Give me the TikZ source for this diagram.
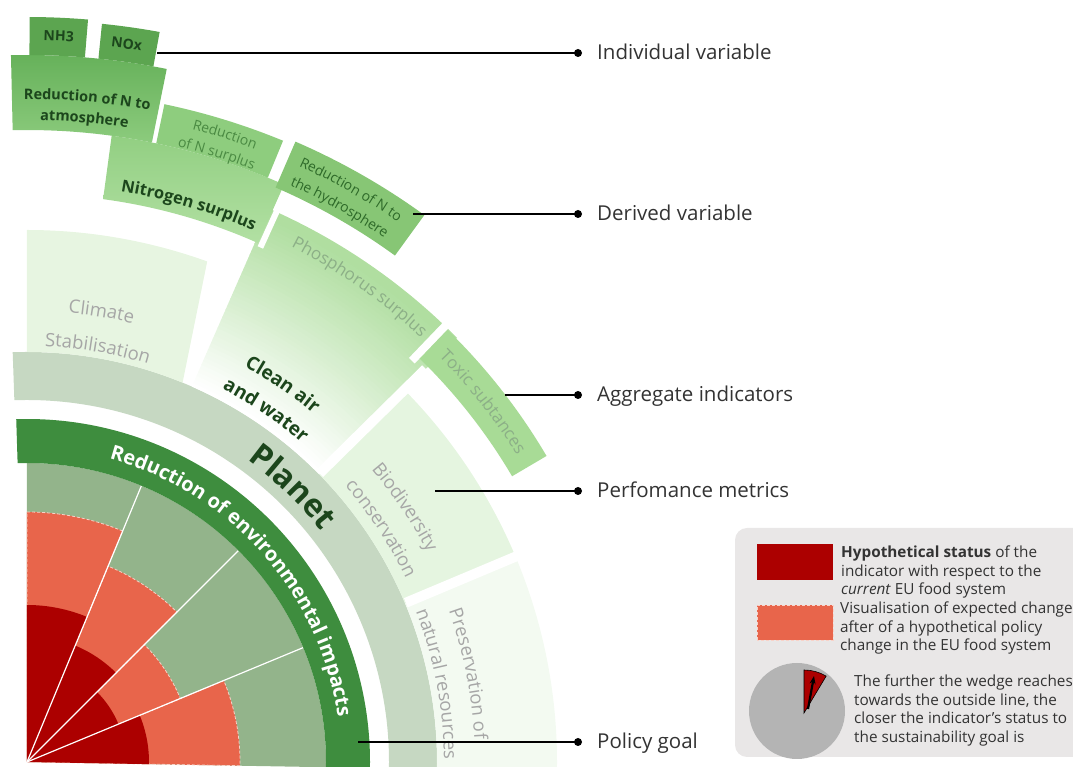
\documentclass[tikz,border=0pt]{standalone}
\usepackage{fontspec}
\setmainfont{Open Sans}
\usetikzlibrary{decorations.text,arrows.meta}

\definecolor{fanGreen}{HTML}{93B48B}
\definecolor{redDark}{HTML}{AC0000}
\definecolor{redSoft}{HTML}{E8654B}
\definecolor{dashPink}{HTML}{F8D2C8}
\definecolor{bandGreen}{HTML}{3E8D3E}
\definecolor{planetGrey}{HTML}{C6D8C2}
\definecolor{presGreen}{HTML}{F3FAF1}
\definecolor{bioGreen}{HTML}{E5F5E0}
\definecolor{climGreen}{HTML}{E7F5E1}
\definecolor{cleanTop}{HTML}{B0DEA0}
\definecolor{toxicGreen}{HTML}{A8DB96}
\definecolor{nitroLow}{HTML}{B2E0A3}
\definecolor{nitroHigh}{HTML}{92CF82}
\definecolor{nsurGreen}{HTML}{8ECD7E}
\definecolor{hydroGreen}{HTML}{87C675}
\definecolor{atmoLow}{HTML}{8CCB7D}
\definecolor{atmoHigh}{HTML}{66B15A}
\definecolor{nhGreen}{HTML}{5CA550}
\definecolor{darkText}{HTML}{1C461C}
\definecolor{greyText}{HTML}{A6A6A6}
\definecolor{softText}{HTML}{8CAF87}
\definecolor{midText}{HTML}{4A8A42}
\definecolor{hydroText}{HTML}{2E6A29}
\definecolor{labelText}{HTML}{333333}
\definecolor{legendGrey}{HTML}{E9E7E7}
\definecolor{pieGrey}{HTML}{B4B4B4}

\newcommand{\wedgepath}[3]{(0,0) -- ({#2}:#1) arc[start angle=#2,end angle=#3,radius=#1] -- cycle}
\newcommand{\ringpath}[4]{({#3}:#1) arc[start angle=#3,end angle=#4,radius=#1] -- ({#4}:#2) arc[start angle=#4,end angle=#3,radius=#2] -- cycle}
\newcommand{\arclabel}[5]{\path[decorate,decoration={text along path,text align=center,text={|#4|#5}}] ({#2+#3}:#1) arc[start angle={#2+#3},end angle={#2-#3},radius=#1];}

\newcommand{\fmtImpact}{\fontsize{20}{24}\selectfont\bfseries\color{white}}
\newcommand{\fmtPlanet}{\fontsize{32}{36}\selectfont\bfseries\color{darkText}}
\newcommand{\fmtGoal}{\fontsize{19}{22}\selectfont\bfseries\color{darkText}}
\newcommand{\fmtMetric}{\fontsize{18.5}{22}\selectfont\color{greyText}}
\newcommand{\fmtAggr}{\fontsize{17}{20}\selectfont\color{softText}}
\newcommand{\fmtNitro}{\fontsize{16.5}{20}\selectfont\bfseries\color{darkText}}
\newcommand{\fmtDerived}{\fontsize{14}{17}\selectfont\color{midText}}
\newcommand{\fmtHydro}{\fontsize{14}{17}\selectfont\color{hydroText}}
\newcommand{\fmtAtmo}{\fontsize{14.5}{17}\selectfont\bfseries\color{darkText}}
\newcommand{\fmtVar}{\fontsize{14}{17}\selectfont\bfseries\color{darkText}}

\tikzset{
	redLight/.style={fill=redSoft, draw=dashPink, line width=0.8pt, dash pattern=on 3pt off 2pt},
	spoke/.style={white, line width=1.2pt},
	gapline/.style={white, line width=10pt},
	leader/.style={black, line width=1.8pt},
	lbl/.style={anchor=base west, inner sep=0pt, text=labelText, font=\fontsize{20.5}{24}\selectfont},
	legendtext/.style={anchor=north west, inner sep=0pt, align=left, text=labelText, font=\fontsize{15.3}{18.6}\selectfont}
}

\begin{document}
\begin{tikzpicture}[x=1pt,y=1pt]
	\useasboundingbox (-27,-5) rectangle (1046,762);

	\fill[fanGreen] \wedgepath{299}{-1}{90};
	\filldraw[redLight] \wedgepath{213}{-1}{22.5};
	\filldraw[redLight] \wedgepath{166}{22.5}{45};
	\filldraw[redLight] \wedgepath{212}{45}{67.5};
	\filldraw[redLight] \wedgepath{250}{67.5}{90};
	\fill[redDark] \wedgepath{122}{-1}{22.5};
	\fill[redDark] \wedgepath{99}{22.5}{45};
	\fill[redDark] \wedgepath{126}{45}{67.5};
	\fill[redDark] \wedgepath{157}{67.5}{90};
	\foreach \a in {22.5,45,67.5}
		\draw[spoke] (0,0) -- (\a:299);

	\fill[bandGreen] \ringpath{299}{343}{-1}{91.8};
	\fill[planetGrey] \ringpath{362}{410}{-1}{92};

	\fill[presGreen] \ringpath{410}{530}{-1}{22.8};
	\fill[bioGreen] \ringpath{410}{530}{22.8}{44.6};
	\foreach \i in {0,...,48}{
		\pgfmathsetmacro{\ra}{410+4*\i}
		\pgfmathsetmacro{\rb}{min(604,\ra+4.6)}
		\pgfmathtruncatemacro{\pct}{min(100,\i*2.2)}
		\fill[cleanTop!\pct!white] \ringpath{\ra}{\rb}{44.6}{66.3};
	}
	\fill[climGreen] (67.7:410) -- (70.2:532) arc[start angle=70.2,end angle=90,radius=532] -- (90:410) arc[start angle=90,end angle=67.7,radius=410] -- cycle;
	\fill[toxicGreen] \ringpath{563}{603}{30.5}{45.8};
	\draw[gapline] (22.8:411) -- (22.8:535);
	\draw[gapline] (44.6:411) -- (44.6:560);
	\draw[gapline, line width=8pt] (46.2:556) -- (46.2:608);

	\shade[top color=nitroHigh, bottom color=nitroLow] \ringpath{568}{632}{66}{82.3};
	\draw[gapline, line width=6pt] (65.6:565) -- (65.6:610);
	\fill[hydroGreen] \ringpath{626}{676}{54}{66.6};
	\fill[nsurGreen] \ringpath{632}{672}{67.6}{78.2};
	\shade[top color=atmoHigh, bottom color=atmoLow] \ringpath{632}{707}{78.6}{91.3};
	\fill[nhGreen] \ringpath{707}{745}{85.3}{89.8};
	\fill[nhGreen] \ringpath{707}{742}{79.7}{84.2};

	\arclabel{314}{41.5}{48}{\fmtImpact}{Reduction of environmental impacts}
	\arclabel{374}{46}{20}{\fmtPlanet}{Planet}
	\arclabel{451}{80.6}{12}{\fmtMetric}{Climate}
	\arclabel{416}{80.3}{12}{\fmtMetric}{Stabilisation}
	\arclabel{451}{55.9}{14}{\fmtGoal}{Clean air}
	\arclabel{421}{55.8}{14}{\fmtGoal}{and water}
	\arclabel{452}{34}{14}{\fmtMetric}{Biodiversity}
	\arclabel{421}{33.4}{14}{\fmtMetric}{conservation}
	\arclabel{448}{11.3}{14}{\fmtMetric}{Preservation of}
	\arclabel{417}{10.75}{14}{\fmtMetric}{natural resources}
	\arclabel{579}{55}{14}{\fmtAggr}{Phosphorus surplus}
	\arclabel{578}{38.3}{12}{\fmtAggr}{Toxic subtances}
	\arclabel{578}{73.8}{12}{\fmtNitro}{Nitrogen surplus}
	\arclabel{654}{72.5}{8}{\fmtDerived}{Reduction}
	\arclabel{634}{72.7}{8}{\fmtDerived}{of N surplus}
	\arclabel{655}{60.5}{10}{\fmtHydro}{Reduction of N to}
	\arclabel{634}{60.6}{10}{\fmtHydro}{the hydrosphere}
	\arclabel{663}{84.8}{10}{\fmtAtmo}{Reduction of N to}
	\arclabel{642}{84.9}{10}{\fmtAtmo}{atmosphere}
	\arclabel{722}{87.5}{4}{\fmtVar}{NH3}
	\arclabel{720}{82.1}{4}{\fmtVar}{NOx}

	\foreach \nm/\xs/\ys/\txt in {indiv/130/709/Individual variable, derived/386/548/Derived variable, aggr/478/367/Aggregate indicators, perf/408/271/Perfomance metrics, goal/331/20/Policy goal}{
		\coordinate (\nm-from) at (\xs,\ys);
		\coordinate (\nm-dot) at (551,\ys);
		\node[lbl] (\nm) at (570,\ys-7) {\txt};
		\draw[leader] (\nm-from) -- (\nm-dot);
		\fill (\nm-dot) circle[radius=4];
	}

	\fill[legendGrey, rounded corners=12pt] (708,5) rectangle (1060,234);
	\fill[redDark] (730,182) rectangle (806,218);
	\filldraw[redLight] (730,122) rectangle (806,157);
	\node[legendtext] (statusText) at (814,216.5) {\textbf{Hypothetical status} of the\\indicator with respect to the\\\emph{current} EU food system};
	\node[legendtext] (changeText) at (813,160.5) {Visualisation of expected change\\after of a hypothetical policy\\change in the EU food system};
	\fill[pieGrey] (770,51) circle[radius=48];
	\filldraw[fill=redDark, draw=black, line width=0.6pt] (777,49) -- (777,92) arc[start angle=90,end angle=59,radius=43] -- cycle;
	\draw[line width=2.2pt, -{Stealth[length=8pt,width=6pt]}] (781,53) -- (787,86);
	\node[legendtext] (wedgeText) at (827,87.5) {The further the wedge reaches\\towards the outside line, the\\closer the indicator's status to\\the sustainability goal is};
\end{tikzpicture}
\end{document}
